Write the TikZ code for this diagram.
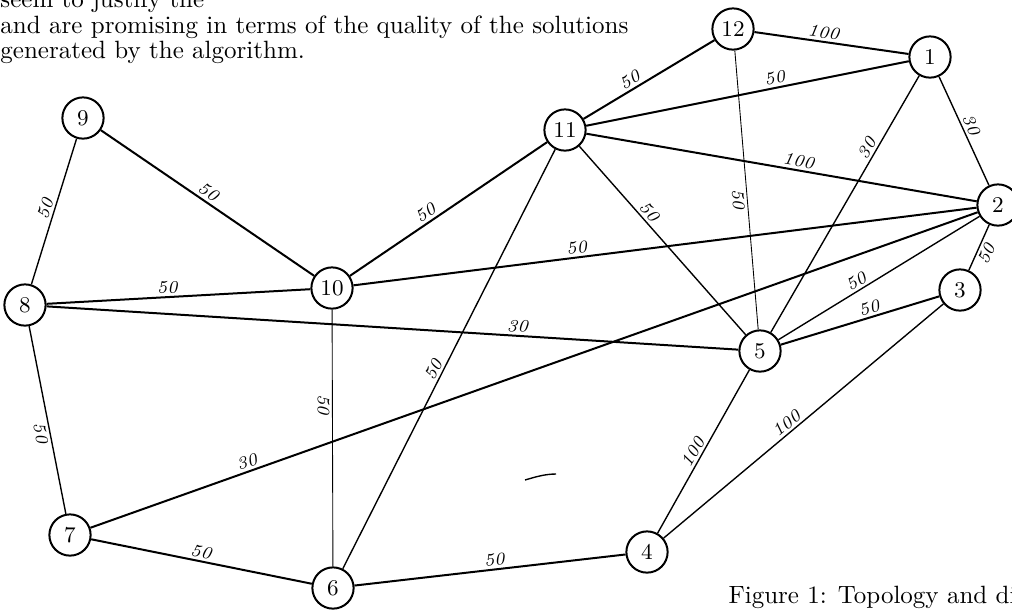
\documentclass[tikz,border=0pt]{standalone}
\begin{document}
\begin{tikzpicture}[x=0.4pt,y=-0.4pt,
  nd/.style={draw,circle,line width=0.8pt,minimum size=16.5pt,inner sep=0pt,font=\fontsize{9}{9}\selectfont},
  tk/.style={line width=0.8pt},
  md/.style={line width=0.55pt},
  tn/.style={line width=0.35pt},
  wt/.style={sloped,inner sep=1pt,font=\itshape\fontsize{7}{7}\selectfont},
  txt/.style={anchor=base west,inner sep=0pt,font=\fontsize{10}{12}\selectfont}]
\useasboundingbox (0,0) rectangle (1012,609);
\clip (0,0) rectangle (1012,609);
% text
\node[txt] (t1) at (0,7) {seem to justify the};
\node[txt] (t2) at (0,33) {and are promising in terms of the quality of the solutions};
\node[txt] (t3) at (0,58) {generated by the algorithm.};
\node[txt] (cap) at (728,603) {Figure 1: Topology and dis};
% nodes
\node[nd] (n9) at (83,118) {9};
\node[nd] (n8) at (25,305) {8};
\node[nd] (n10) at (332,288) {10};
\node[nd] (n11) at (565,130) {11};
\node[nd] (n12) at (733,29) {12};
\node[nd] (n1) at (930,57) {1};
\node[nd] (n2) at (998,205) {2};
\node[nd] (n3) at (960,290) {3};
\node[nd] (n5) at (760,351) {5};
\node[nd] (n7) at (70,535) {7};
\node[nd] (n6) at (333,588) {6};
\node[nd] (n4) at (647,552) {4};
% edges
\draw[tk] (n9) -- node[wt,pos=.48,above] {50} (n10);
\draw[tk] (n8) -- node[wt,pos=.46,above] {50} (n10);
\draw[md] (n9) -- node[wt,pos=.5,above] {50} (n8);
\draw[md] (n8) -- node[wt,pos=.56,below] {50} (n7);
\draw[tk] (n8) -- node[wt,pos=.68,above] {30} (n5);
\draw[tk] (n10) -- node[wt,pos=.41,above] {50} (n11);
\draw[tk] (n10) -- node[wt,pos=.36,above] {50} (n2);
\draw[tn] (n10) -- node[wt,pos=.37,below] {50} (n6);
\draw[tk] (n11) -- node[wt,pos=.39,above] {50} (n12);
\draw[tk] (n11) -- node[wt,pos=.59,above] {50} (n1);
\draw[tk] (n11) -- node[wt,pos=.54,above] {100} (n2);
\draw[md] (n11) -- node[wt,pos=.38,above] {50} (n5);
\draw[md] (n6) -- node[wt,pos=.465,above] {50} (n11);
\draw[tk] (n12) -- node[wt,pos=.44,above] {100} (n1);
\draw[tn] (n12) -- node[wt,pos=.53,below] {50} (n5);
\draw[md] (n1) -- node[wt,pos=.48,above] {30} (n2);
\draw[md] (n5) -- node[wt,pos=.7,above] {30} (n1);
\draw[md] (n2) -- node[wt,pos=.56,below] {50} (n3);
\draw[md] (n5) -- node[wt,pos=.41,above] {50} (n2);
\draw[tk] (n7) -- node[wt,pos=.18,above] {30} (n2);
\draw[tk] (n5) -- node[wt,pos=.575,above] {50} (n3);
\draw[md] (n4) -- node[wt,pos=.46,above] {100} (n3);
\draw[md] (n4) -- node[wt,pos=.47,above] {100} (n5);
\draw[tk] (n7) -- node[wt,pos=.49,above] {50} (n6);
\draw[tk] (n6) -- node[wt,pos=.52,above] {50} (n4);
% stray pen mark
\draw[md] (525,480) .. controls (535,477) and (545,474) .. (556,474);
\end{tikzpicture}
\end{document}
